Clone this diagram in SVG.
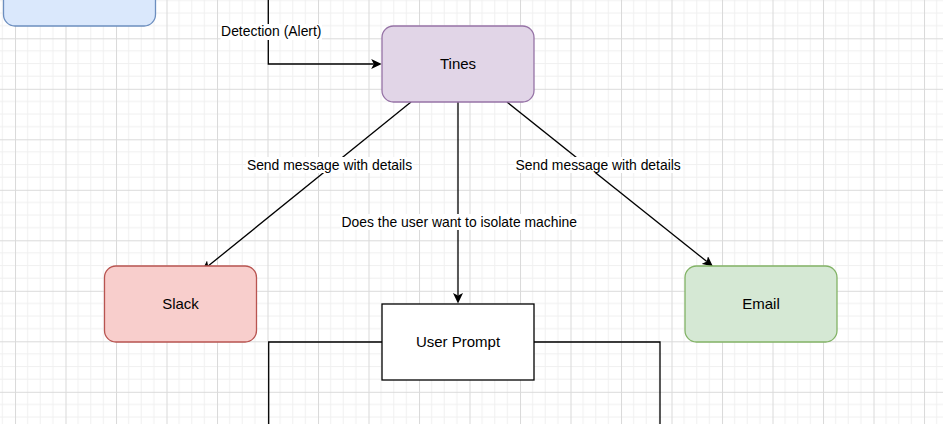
<svg xmlns="http://www.w3.org/2000/svg" width="943" height="424" viewBox="0 0 943 424">
  <defs>
    <pattern id="grid" patternUnits="userSpaceOnUse" x="15" y="38.3" width="50.5" height="50.5">
      <rect width="50.5" height="50.5" fill="#ffffff"/>
      <g stroke="#f0f0f0" stroke-width="1">
        <line x1="12.625" y1="0" x2="12.625" y2="50.5"/>
        <line x1="25.25" y1="0" x2="25.25" y2="50.5"/>
        <line x1="37.875" y1="0" x2="37.875" y2="50.5"/>
        <line x1="0" y1="12.625" x2="50.5" y2="12.625"/>
        <line x1="0" y1="25.25" x2="50.5" y2="25.25"/>
        <line x1="0" y1="37.875" x2="50.5" y2="37.875"/>
      </g>
      <g stroke="#dadada" stroke-width="1">
        <line x1="0.5" y1="0" x2="0.5" y2="50.5"/>
        <line x1="0" y1="0.5" x2="50.5" y2="0.5"/>
      </g>
    </pattern>
    <marker id="arrow" viewBox="0 0 10.5 10" markerUnits="userSpaceOnUse" markerWidth="10.5" markerHeight="10" refX="2.6" refY="5" orient="auto">
      <path d="M0,0 L10.5,5 L0,10 L2.6,5 Z" fill="#000000"/>
    </marker>
  </defs>
  <style>
    .node { stroke-width: 1.3; }
    .nlabel { font-family: "Liberation Sans", Arial, sans-serif; font-size: 15px; fill: #000000; text-anchor: middle; }
    .elabel { font-family: "Liberation Sans", Arial, sans-serif; font-size: 13.9px; fill: #000000; text-anchor: middle; }
    .edge { fill: none; stroke: #000000; stroke-width: 1.3; }
    .lbg { fill: #ffffff; }
  </style>
  <rect x="0" y="0" width="943" height="424" fill="url(#grid)"/>

  <g id="connectors">
    <polyline class="edge" points="268.3,0 268.3,64 373.8,64" marker-end="url(#arrow)"/>
    <line class="edge" x1="411" y1="102" x2="208.14" y2="266.03" marker-end="url(#arrow)"/>
    <line class="edge" x1="507" y1="102" x2="706.83" y2="261.57" marker-end="url(#arrow)"/>
    <line class="edge" x1="458" y1="102" x2="458" y2="295.6" marker-end="url(#arrow)"/>
    <polyline class="edge" points="382,342 268.7,342 268.7,424"/>
    <polyline class="edge" points="534,342 660,342 660,424"/>
    <g id="label-detection">
      <rect class="lbg" x="220.5" y="24" width="101.5" height="16"/>
      <text class="elabel" x="271.3" y="36">Detection (Alert)</text>
    </g>
    <g id="label-slack">
      <rect class="lbg" x="246" y="157" width="167" height="16"/>
      <text class="elabel" x="329.5" y="170">Send message with details</text>
    </g>
    <g id="label-email">
      <rect class="lbg" x="514.5" y="157" width="167" height="16"/>
      <text class="elabel" x="598.2" y="169.5">Send message with details</text>
    </g>
    <g id="label-prompt">
      <rect class="lbg" x="340.5" y="214" width="237" height="16"/>
      <text class="elabel" x="459.3" y="227.2">Does the user want to isolate machine</text>
    </g>
  </g>

  <g id="node-source">
    <rect class="node" x="3.5" y="-50" width="152" height="76" rx="11.4" ry="11.4" fill="#dae8fc" stroke="#6c8ebf"/>
  </g>
  <g id="node-tines">
    <rect class="node" x="382" y="26" width="152" height="76" rx="11.4" ry="11.4" fill="#e1d5e7" stroke="#9673a6"/>
    <text class="nlabel" x="458" y="69.3">Tines</text>
  </g>
  <g id="node-slack">
    <rect class="node" x="104.5" y="266" width="152" height="76" rx="11.4" ry="11.4" fill="#f8cecc" stroke="#b85450"/>
    <text class="nlabel" x="180.5" y="309.3">Slack</text>
  </g>
  <g id="node-email">
    <rect class="node" x="685" y="266" width="152" height="76" rx="11.4" ry="11.4" fill="#d5e8d4" stroke="#82b366"/>
    <text class="nlabel" x="761" y="309.3">Email</text>
  </g>
  <g id="node-userprompt">
    <rect class="node" x="382" y="304" width="152" height="76" fill="#ffffff" stroke="#000000"/>
    <text class="nlabel" x="458" y="347.3">User Prompt</text>
  </g>
</svg>
